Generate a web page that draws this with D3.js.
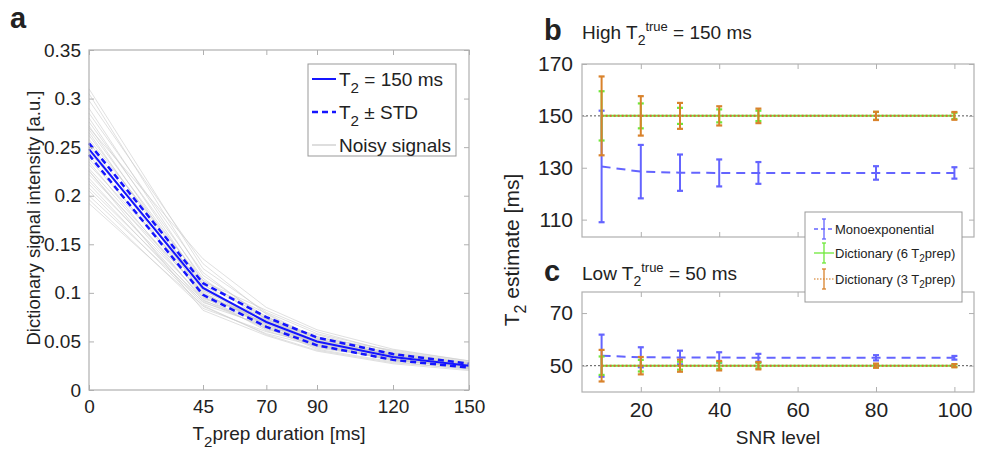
<!DOCTYPE html>
<html>
<head>
<meta charset="utf-8">
<script src="https://cdn.jsdelivr.net/npm/d3@7"></script>
<style>
  body { margin: 0; background: #fff; }
  text { font-family: "Liberation Sans", Arial, sans-serif; fill: #222; }
</style>
</head>
<body>
<div id="chart"></div>
<script>
// ---- panel a data ----
var prepTimes = [0, 45, 70, 90, 120, 150];
var meanSignal = [0.248, 0.105, 0.070, 0.050, 0.034, 0.025];
var upperSignal = [0.254, 0.110, 0.075, 0.054, 0.037, 0.027];
var lowerSignal = [0.242, 0.098, 0.065, 0.046, 0.031, 0.023];
var noisySignals = [
  [0.310, 0.125, 0.080, 0.058, 0.040, 0.029],
  [0.305, 0.118, 0.075, 0.055, 0.038, 0.027],
  [0.298, 0.130, 0.078, 0.052, 0.036, 0.026],
  [0.290, 0.112, 0.082, 0.060, 0.039, 0.028],
  [0.285, 0.121, 0.072, 0.054, 0.041, 0.030],
  [0.280, 0.108, 0.076, 0.050, 0.035, 0.025],
  [0.276, 0.115, 0.069, 0.057, 0.037, 0.027],
  [0.272, 0.102, 0.074, 0.049, 0.034, 0.026],
  [0.268, 0.110, 0.079, 0.053, 0.036, 0.024],
  [0.265, 0.098, 0.071, 0.051, 0.038, 0.028],
  [0.262, 0.106, 0.066, 0.048, 0.033, 0.025],
  [0.258, 0.113, 0.073, 0.055, 0.035, 0.027],
  [0.255, 0.100, 0.068, 0.047, 0.032, 0.024],
  [0.252, 0.095, 0.075, 0.052, 0.036, 0.026],
  [0.248, 0.104, 0.070, 0.050, 0.034, 0.025],
  [0.245, 0.109, 0.064, 0.046, 0.031, 0.023],
  [0.242, 0.097, 0.072, 0.053, 0.035, 0.026],
  [0.238, 0.103, 0.067, 0.049, 0.037, 0.025],
  [0.235, 0.092, 0.070, 0.045, 0.033, 0.024],
  [0.232, 0.107, 0.062, 0.051, 0.034, 0.027],
  [0.228, 0.099, 0.068, 0.047, 0.030, 0.023],
  [0.225, 0.094, 0.073, 0.050, 0.036, 0.025],
  [0.222, 0.101, 0.065, 0.044, 0.032, 0.022],
  [0.218, 0.090, 0.069, 0.048, 0.034, 0.026],
  [0.215, 0.096, 0.061, 0.046, 0.031, 0.024],
  [0.212, 0.088, 0.066, 0.043, 0.033, 0.023],
  [0.208, 0.093, 0.063, 0.049, 0.030, 0.025],
  [0.205, 0.086, 0.058, 0.045, 0.032, 0.022],
  [0.200, 0.091, 0.064, 0.042, 0.029, 0.021],
  [0.196, 0.084, 0.060, 0.047, 0.031, 0.024],
  [0.192, 0.087, 0.057, 0.041, 0.028, 0.022],
  [0.270, 0.135, 0.085, 0.062, 0.042, 0.030],
  [0.226, 0.082, 0.056, 0.040, 0.027, 0.020]
];
var aYTicks = [0, 0.05, 0.1, 0.15, 0.2, 0.25, 0.3, 0.35];

// ---- panels b / c data ----
var snrLevels = [10, 20, 30, 40, 50, 80, 100];
var snrTicks = [20, 40, 60, 80, 100];
// high T2 = 150 ms
var highMonoMean = [130.5, 128.5, 128.1, 128.0, 128.0, 128.0, 128.0];
var highMonoStd  = [21.5, 10.3, 7.0, 5.2, 4.2, 2.6, 2.2];
var highDict6Mean = [150, 150, 150, 150, 150, 150, 150];
var highDict6Std  = [9.5, 4.8, 3.1, 2.5, 2.0, 1.5, 1.2];
var highDict3Mean = [150, 150, 150, 150, 150, 150, 150];
var highDict3Std  = [15.2, 7.6, 5.0, 3.7, 2.8, 1.6, 1.5];
var highYTicks = [110, 130, 150, 170];
// low T2 = 50 ms
var lowMonoMean = [53.8, 53.2, 53.1, 53.1, 53.0, 53.0, 53.0];
var lowMonoStd  = [8.0, 3.8, 2.6, 2.0, 1.5, 1.0, 0.7];
var lowDict6Mean = [50, 50, 50, 50, 50, 50, 50];
var lowDict6Std  = [3.5, 2.2, 1.5, 1.2, 1.0, 0.6, 0.5];
var lowDict3Mean = [50, 50, 50, 50, 50, 50, 50];
var lowDict3Std  = [6.0, 3.3, 2.3, 1.8, 1.4, 0.8, 0.6];
var lowYTicks = [50, 70];

var monoColor = "#6464ff", dict6Color = "#6ee83a", dict3Color = "#d9822b";
var boxColor = "#b0b0b0";

var svg = d3.select("#chart").append("svg")
  .attr("width", 982).attr("height", 451);

// matlab-like box with inward ticks on all four sides
function drawBox(g, x, y, xt, yt, fontSize, xPad, yPad, showX) {
  var w = x.range()[1] - x.range()[0], h = y.range()[0] - y.range()[1];
  var bottom = g.append("g").attr("transform", "translate(0," + y.range()[0] + ")")
    .call(d3.axisBottom(x).tickValues(xt).tickSize(-5).tickPadding(xPad)
      .tickFormat(showX ? d3.format("") : ""));
  var top = g.append("g").attr("transform", "translate(0," + y.range()[1] + ")")
    .call(d3.axisTop(x).tickValues(xt).tickSize(-5).tickFormat(""));
  var left = g.append("g").attr("transform", "translate(" + x.range()[0] + ",0)")
    .call(d3.axisLeft(y).tickValues(yt).tickSize(-5).tickPadding(yPad)
      .tickFormat(function(d) { return String(d); }));
  var right = g.append("g").attr("transform", "translate(" + x.range()[1] + ",0)")
    .call(d3.axisRight(y).tickValues(yt).tickSize(-5).tickFormat(""));
  [bottom, top, left, right].forEach(function(a) {
    a.select(".domain").remove();
    a.selectAll(".tick line").attr("stroke", boxColor);
    a.selectAll("text").style("font-family", "'Liberation Sans', Arial, sans-serif")
      .style("font-size", fontSize + "px").attr("fill", "#222");
  });
  g.append("rect").attr("x", x.range()[0]).attr("y", y.range()[1])
    .attr("width", w).attr("height", h)
    .attr("fill", "none").attr("stroke", boxColor).attr("stroke-width", 1.2);
}

// ---------------- panel a ----------------
var xa = d3.scaleLinear().domain([0, 150]).range([89, 469]);
var ya = d3.scaleLinear().domain([0, 0.35]).range([390, 50]);
var ga = svg.append("g");
var lineA = d3.line().x(function(d, i) { return xa(prepTimes[i]); }).y(function(d) { return ya(d); });

ga.append("g").selectAll("path").data(noisySignals).enter().append("path")
  .attr("d", lineA).attr("fill", "none")
  .attr("stroke", "#cccccc").attr("stroke-opacity", 0.6).attr("stroke-width", 1);
ga.append("path").attr("d", lineA(upperSignal)).attr("fill", "none")
  .attr("stroke", "#1515ff").attr("stroke-width", 2.5).attr("stroke-dasharray", "6,4");
ga.append("path").attr("d", lineA(lowerSignal)).attr("fill", "none")
  .attr("stroke", "#1515ff").attr("stroke-width", 2.5).attr("stroke-dasharray", "6,4");
ga.append("path").attr("d", lineA(meanSignal)).attr("fill", "none")
  .attr("stroke", "#1515ff").attr("stroke-width", 2);

drawBox(ga, xa, ya, prepTimes, aYTicks, 19, 10, 8, true);

// legend a
var lgA = ga.append("g");
lgA.append("rect").attr("x", 308).attr("y", 64).attr("width", 148).attr("height", 92)
  .attr("fill", "#fff").attr("stroke", "#999").attr("stroke-width", 1);
lgA.append("line").attr("x1", 312).attr("x2", 336).attr("y1", 79).attr("y2", 79)
  .attr("stroke", "#1515ff").attr("stroke-width", 2);
lgA.append("line").attr("x1", 312).attr("x2", 336).attr("y1", 112).attr("y2", 112)
  .attr("stroke", "#1515ff").attr("stroke-width", 2.5).attr("stroke-dasharray", "6,4");
lgA.append("line").attr("x1", 312).attr("x2", 336).attr("y1", 145).attr("y2", 145)
  .attr("stroke", "#c8c8c8").attr("stroke-width", 1.2);
function t2Label(sel, x, y, size, rest) {
  var t = sel.append("text").attr("x", x).attr("y", y).style("font-size", size + "px");
  t.append("tspan").text("T");
  t.append("tspan").attr("dy", size * 0.38).style("font-size", (size * 0.8) + "px").text("2");
  t.append("tspan").attr("dy", -size * 0.38).text(rest);
  return t;
}
t2Label(lgA, 339, 86, 19, " = 150 ms");
t2Label(lgA, 339, 119, 19, " \u00b1 STD");
lgA.append("text").attr("x", 339).attr("y", 152).style("font-size", "19px").text("Noisy signals");

// axis labels a
var xla = ga.append("text").attr("x", 279).attr("y", 440).attr("text-anchor", "middle")
  .style("font-size", "19px");
xla.append("tspan").text("T");
xla.append("tspan").attr("dy", 7).style("font-size", "15px").text("2");
xla.append("tspan").attr("dy", -7).text("prep duration [ms]");
ga.append("text").attr("transform", "translate(40,218) rotate(-90)").attr("text-anchor", "middle")
  .style("font-size", "18.5px").text("Dictionary signal intensity [a.u.]");
ga.append("text").attr("x", 10).attr("y", 28).style("font-size", "29px").style("font-weight", "bold")
  .attr("fill", "#000").text("a");

// ---------------- panels b / c ----------------
var xs = d3.scaleLinear().domain([5, 105]).range([582, 974]);
var yb = d3.scaleLinear().domain([103.3, 170]).range([237, 64]);
var yc = d3.scaleLinear().domain([40, 78]).range([392, 292]);

function drawSeries(g, y, means, stds, color, lineDash) {
  var ln = d3.line().x(function(d, i) { return xs(snrLevels[i]); }).y(function(d) { return y(d); });
  g.append("path").attr("d", ln(means)).attr("fill", "none").attr("stroke", lineDash.color || color)
    .attr("stroke-width", lineDash.width).attr("stroke-dasharray", lineDash.dash);
  var bars = g.append("g").selectAll("g").data(means).enter().append("g");
  bars.append("line")
    .attr("x1", function(d, i) { return xs(snrLevels[i]); })
    .attr("x2", function(d, i) { return xs(snrLevels[i]); })
    .attr("y1", function(d, i) { return y(d - stds[i]); })
    .attr("y2", function(d, i) { return y(d + stds[i]); })
    .attr("stroke", color).attr("stroke-width", 2);
  [-1, 1].forEach(function(s) {
    bars.append("line")
      .attr("x1", function(d, i) { return xs(snrLevels[i]) - 3; })
      .attr("x2", function(d, i) { return xs(snrLevels[i]) + 3; })
      .attr("y1", function(d, i) { return y(d + s * stds[i]); })
      .attr("y2", function(d, i) { return y(d + s * stds[i]); })
      .attr("stroke", color).attr("stroke-width", 2.2);
  });
}

function drawPanel(y, yt, ref, mono, monoS, d6, d6S, d3m, d3S, showX) {
  var g = svg.append("g");
  g.append("line").attr("x1", xs.range()[0]).attr("x2", xs.range()[1])
    .attr("y1", y(ref)).attr("y2", y(ref))
    .attr("stroke", "#555").attr("stroke-width", 1).attr("stroke-dasharray", "2,2");
  drawSeries(g, y, mono, monoS, monoColor, { width: 2, dash: "9,6" });
  drawSeries(g, y, d6, d6S, dict6Color, { width: 2, dash: null });
  drawSeries(g, y, d3m, d3S, dict3Color, { width: 2, dash: "2,2", color: "#e0603a" });
  drawBox(g, xs, y, snrTicks, yt, 21, 10, 9, showX);
  return g;
}

drawPanel(yb, highYTicks, 150, highMonoMean, highMonoStd, highDict6Mean, highDict6Std,
  highDict3Mean, highDict3Std, false);
drawPanel(yc, lowYTicks, 50, lowMonoMean, lowMonoStd, lowDict6Mean, lowDict6Std,
  lowDict3Mean, lowDict3Std, true);

// titles
function panelTitle(letter, x, y, pre, post) {
  svg.append("text").attr("x", x).attr("y", y).style("font-size", "29px")
    .style("font-weight", "bold").attr("fill", "#000").text(letter);
  var t = svg.append("text").attr("x", 582).attr("y", y - 1).style("font-size", "19px");
  t.append("tspan").text(pre + "T");
  t.append("tspan").attr("dy", 6).style("font-size", "14px").text("2");
  t.append("tspan").attr("dy", -14).style("font-size", "13px").text("true");
  t.append("tspan").attr("dy", 8).text(post);
}
panelTitle("b", 544, 40, "High ", " = 150 ms");
panelTitle("c", 544, 281, "Low ", " = 50 ms");

svg.append("text").attr("x", 778).attr("y", 444).attr("text-anchor", "middle")
  .style("font-size", "19px").text("SNR level");
var yl = svg.append("text").attr("transform", "translate(519,250) rotate(-90)")
  .attr("text-anchor", "middle").style("font-size", "21px");
yl.append("tspan").text("T");
yl.append("tspan").attr("dy", 7).style("font-size", "16px").text("2");
yl.append("tspan").attr("dy", -7).text(" estimate [ms]");

// legend b/c
var legendNames = ["Monoexponential", "Dictionary (6 T", "Dictionary (3 T"];
var legendColors = [monoColor, dict6Color, dict3Color];
var lg = svg.append("g");
lg.append("rect").attr("x", 805).attr("y", 212).attr("width", 157).attr("height", 90)
  .attr("fill", "#fff").attr("stroke", "#999").attr("stroke-width", 1);
var rowY = [229, 253, 279];
legendNames.forEach(function(name, i) {
  var cy = rowY[i];
  var dash = i === 0 ? "4,3" : (i === 2 ? "1.5,1.5" : null);
  lg.append("line").attr("x1", 814).attr("x2", 834).attr("y1", cy).attr("y2", cy)
    .attr("stroke", i === 2 ? "#e0a060" : legendColors[i]).attr("stroke-width", 1.3)
    .attr("stroke-dasharray", dash);
  lg.append("line").attr("x1", 824).attr("x2", 824).attr("y1", cy - 10).attr("y2", cy + 10)
    .attr("stroke", legendColors[i]).attr("stroke-width", 1.3);
  [-10, 10].forEach(function(o) {
    lg.append("line").attr("x1", 822).attr("x2", 826).attr("y1", cy + o).attr("y2", cy + o)
      .attr("stroke", legendColors[i]).attr("stroke-width", 1.3);
  });
  var t = lg.append("text").attr("x", 835).attr("y", cy + 5).style("font-size", "13px");
  t.append("tspan").text(name);
  if (i > 0) {
    t.append("tspan").attr("dy", 4).style("font-size", "10px").text("2");
    t.append("tspan").attr("dy", -4).text("prep)");
  }
});
</script>
</body>
</html>
